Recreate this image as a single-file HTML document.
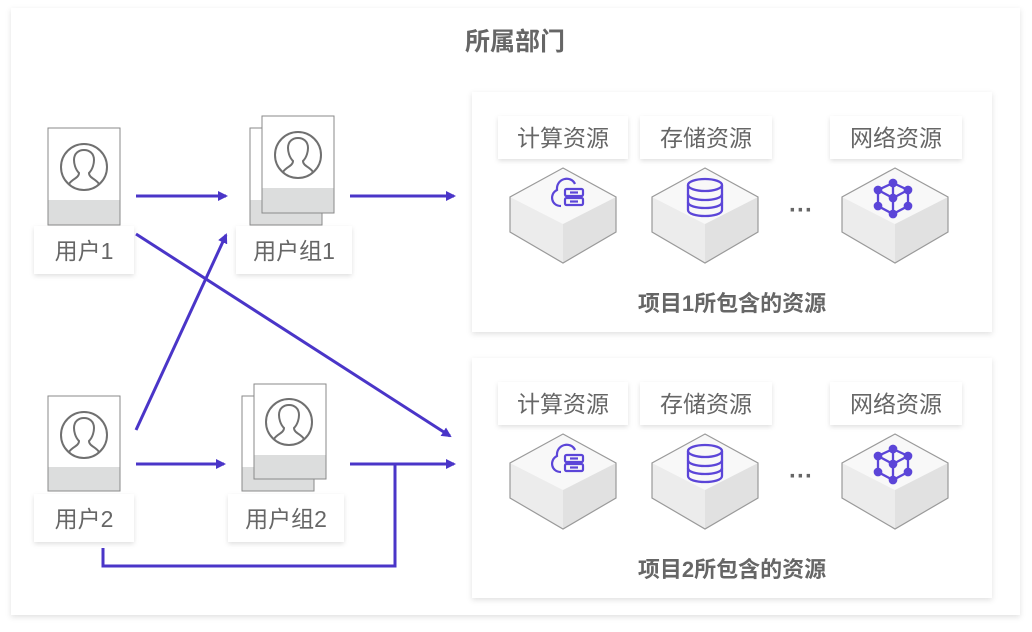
<!DOCTYPE html>
<html><head><meta charset="utf-8"><style>
html,body{margin:0;padding:0;background:#fff;}
svg{display:block;}
text{font-family:"Liberation Sans","Noto Sans CJK SC",sans-serif;fill:#666;}
</style></head><body>
<svg width="1032" height="632" viewBox="0 0 1032 632" xmlns="http://www.w3.org/2000/svg">
<defs>
<filter id="sh" x="-10%" y="-10%" width="120%" height="130%"><feDropShadow dx="0" dy="2" stdDeviation="3" flood-color="#000" flood-opacity="0.12"/></filter>
<filter id="sh2" x="-20%" y="-20%" width="140%" height="160%"><feDropShadow dx="0" dy="2" stdDeviation="2.5" flood-color="#000" flood-opacity="0.12"/></filter>
<marker id="ar" markerWidth="10" markerHeight="10" refX="8" refY="5" orient="auto" markerUnits="userSpaceOnUse"><path d="M0,0 L10,5 L0,10 Z" fill="#4a35c8"/></marker>
<g id="person">
<circle cx="0" cy="0" r="23" fill="none" stroke="#707070" stroke-width="2"/>
<path d="M-15,17 C-12,12 -5,11 -5,6 C-9,2 -10,-4 -10,-7 C-10,-14 -5,-17 0,-17 C5,-17 10,-14 10,-7 C10,-4 9,2 5,6 C5,11 12,12 15,17" fill="none" stroke="#707070" stroke-width="2"/>
</g>
<g id="cube">
<path d="M0,0 L53,29 L0,56 L-53,29 Z" fill="#f8f8f8"/>
<path d="M-53,29 L0,56 L0,95 L-53,64 Z" fill="#ececec"/>
<path d="M53,29 L0,56 L0,95 L53,64 Z" fill="#e1e1e1"/>
<path d="M0,0 L53,29 L53,64 L0,95 L-53,64 L-53,29 Z" fill="none" stroke="#9a9a9a" stroke-width="1.2"/>
</g>
<g id="icompute" fill="none" stroke="#5b45d8" stroke-width="2.2">
<path d="M-6,20 C-16,20 -18,8 -10,4 C-11,-8 4,-11 8,-2"/>
<rect x="-2" y="3" width="18" height="7" rx="1.5"/><rect x="-2" y="12" width="18" height="7" rx="1.5"/>
<line x1="3" y1="6.5" x2="11" y2="6.5"/><line x1="3" y1="15.5" x2="11" y2="15.5"/>
</g>
<g id="istore" fill="none" stroke="#5b45d8" stroke-width="2.3">
<ellipse cx="0" cy="-8" rx="17" ry="6"/>
<path d="M-17,-8 V17 C-17,25 17,25 17,17 V-8"/>
<path d="M-17,1 C-17,9 17,9 17,1"/><path d="M-17,9 C-17,17 17,17 17,9"/>
</g>
<g id="inet" fill="#5b45d8" stroke="#5b45d8" stroke-width="2.3">
<path d="M0,-14 L-15,-7 L-15,9 L0,17 L15,9 L15,-7 Z M-15,-7 L0,1 L15,-7 M0,1 V17 M0,-14 V-2" fill="none"/>
<circle cx="0" cy="-14" r="3.2"/><circle cx="-15" cy="-7" r="3.2"/><circle cx="15" cy="-7" r="3.2"/>
<circle cx="-15" cy="9" r="3.2"/><circle cx="15" cy="9" r="3.2"/><circle cx="0" cy="17" r="3.2"/><circle cx="0" cy="1" r="3.2"/>
</g>
</defs>

<rect x="11" y="8" width="1009" height="607" fill="#fff" filter="url(#sh)"/>
<text x="515" y="50" font-size="25" font-weight="bold" text-anchor="middle">所属部门</text>

<rect x="472" y="92" width="520" height="240" fill="#fff" filter="url(#sh)"/>
<rect x="472" y="358" width="520" height="240" fill="#fff" filter="url(#sh)"/>

<g id="p1">
<rect x="498" y="116" width="130" height="43" fill="#fff" filter="url(#sh2)"/>
<rect x="640" y="116" width="132" height="43" fill="#fff" filter="url(#sh2)"/>
<rect x="830" y="116" width="132" height="43" fill="#fff" filter="url(#sh2)"/>
<text x="563" y="146" font-size="23" text-anchor="middle">计算资源</text>
<text x="706" y="146" font-size="23" text-anchor="middle">存储资源</text>
<text x="896" y="146" font-size="23" text-anchor="middle">网络资源</text>
<use href="#cube" x="563" y="168"/><use href="#cube" x="705" y="168"/><use href="#cube" x="895" y="168"/>
<use href="#icompute" x="567" y="186"/><use href="#istore" x="705" y="193"/><use href="#inet" x="893" y="197"/>
<text x="801" y="218" font-size="24" text-anchor="middle" font-weight="bold">···</text>
<text x="732" y="311" font-size="22" font-weight="bold" text-anchor="middle">项目1所包含的资源</text>
</g>
<g transform="translate(0,266)">
<rect x="498" y="116" width="130" height="43" fill="#fff" filter="url(#sh2)"/>
<rect x="640" y="116" width="132" height="43" fill="#fff" filter="url(#sh2)"/>
<rect x="830" y="116" width="132" height="43" fill="#fff" filter="url(#sh2)"/>
<text x="563" y="146" font-size="23" text-anchor="middle">计算资源</text>
<text x="706" y="146" font-size="23" text-anchor="middle">存储资源</text>
<text x="896" y="146" font-size="23" text-anchor="middle">网络资源</text>
<use href="#cube" x="563" y="168"/><use href="#cube" x="705" y="168"/><use href="#cube" x="895" y="168"/>
<use href="#icompute" x="567" y="186"/><use href="#istore" x="705" y="193"/><use href="#inet" x="893" y="197"/>
<text x="801" y="218" font-size="24" text-anchor="middle" font-weight="bold">···</text>
<text x="732" y="311" font-size="22" font-weight="bold" text-anchor="middle">项目2所包含的资源</text>
</g>

<!-- user 1 -->
<rect x="48" y="128" width="72" height="97" fill="#fff" stroke="#8a8a8a"/>
<rect x="48.5" y="200" width="71" height="24.5" fill="#dcdddd"/>
<use href="#person" x="84" y="167"/>
<rect x="34" y="226" width="100" height="48" fill="#fff" filter="url(#sh2)"/>
<text x="84" y="259" font-size="23" text-anchor="middle">用户1</text>

<!-- group 1 -->
<rect x="250" y="128" width="72" height="97" fill="#fff" stroke="#8a8a8a"/>
<rect x="250.5" y="200" width="71" height="24.5" fill="#dcdddd"/>
<rect x="262" y="116" width="72" height="97" fill="#fff" stroke="#8a8a8a"/>
<rect x="262.5" y="188" width="71" height="24.5" fill="#dcdddd"/>
<use href="#person" x="298" y="155"/>
<rect x="236" y="226" width="116" height="48" fill="#fff" filter="url(#sh2)"/>
<text x="294" y="259" font-size="23" text-anchor="middle">用户组1</text>

<!-- user 2 -->
<rect x="48" y="396" width="72" height="95" fill="#fff" stroke="#8a8a8a"/>
<rect x="48.5" y="467" width="71" height="23.5" fill="#dcdddd"/>
<use href="#person" x="84" y="435"/>
<rect x="34" y="494" width="100" height="48" fill="#fff" filter="url(#sh2)"/>
<text x="84" y="527" font-size="23" text-anchor="middle">用户2</text>

<!-- group 2 -->
<rect x="242" y="396" width="72" height="95" fill="#fff" stroke="#8a8a8a"/>
<rect x="242.5" y="467" width="71" height="23.5" fill="#dcdddd"/>
<rect x="254" y="384" width="72" height="95" fill="#fff" stroke="#8a8a8a"/>
<rect x="254.5" y="455" width="71" height="23.5" fill="#dcdddd"/>
<use href="#person" x="289" y="422"/>
<rect x="228" y="494" width="116" height="48" fill="#fff" filter="url(#sh2)"/>
<text x="286" y="527" font-size="23" text-anchor="middle">用户组2</text>

<g stroke="#4a35c8" stroke-width="3" fill="none">
<line x1="136" y1="196" x2="226" y2="196" marker-end="url(#ar)"/>
<line x1="350" y1="196" x2="454" y2="196" marker-end="url(#ar)"/>
<line x1="136" y1="234" x2="450" y2="436" marker-end="url(#ar)"/>
<line x1="136" y1="430" x2="226" y2="235" marker-end="url(#ar)"/>
<line x1="136" y1="464" x2="224" y2="464" marker-end="url(#ar)"/>
<line x1="350" y1="464" x2="454" y2="464" marker-end="url(#ar)"/>
<polyline points="103,548 103,566 395,566 395,463"/>
</g>
</svg>
</body></html>
